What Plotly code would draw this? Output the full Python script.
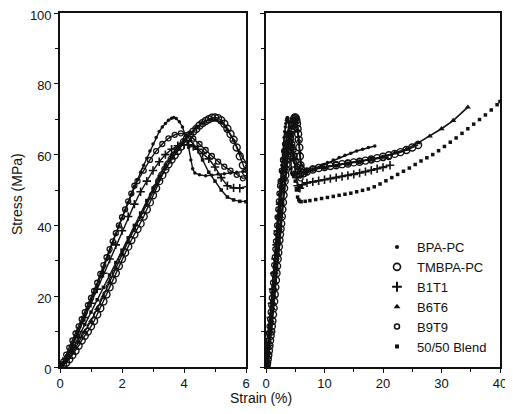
import plotly.graph_objects as go

# ---------------- data ----------------
series_names = ["BPA-PC", "TMBPA-PC", "B1T1", "B6T6", "B9T9", "50/50 Blend"]

bpa_strain = [0, 0.1, 0.2, 0.3, 0.4, 0.5, 0.6, 0.7, 0.8, 0.9, 1.0, 1.1, 1.2, 1.3, 1.4, 1.5, 1.6, 1.7, 1.8, 1.9,
              2.0, 2.1, 2.2, 2.3, 2.4, 2.5, 2.6, 2.7, 2.8, 2.9, 3.0, 3.1, 3.2, 3.3, 3.4, 3.5, 3.6, 3.67, 3.75, 3.85,
              3.95, 4.05, 4.15, 4.22, 4.28, 4.35, 4.5, 4.7, 4.9, 5.1, 5.3, 5.5, 5.7, 5.9, 6.5, 7.5, 8.5, 9.5, 10.5,
              11.5, 12.5, 13.5, 14.5, 15.5, 16.5, 17.5, 18.6]
bpa_stress = [0, 1, 2.5, 4.5, 6.5, 8.5, 10.5, 12.5, 14.5, 16.5, 18.5, 20.8, 23, 25.5, 28, 30.3, 32.5, 35, 37.5, 39.8,
              42, 44.3, 46.5, 48.8, 51, 53, 55, 57, 59, 61, 63, 64.8, 66.5, 67.8, 68.8, 69.7, 70.3, 70.5, 70.2, 69.3,
              67.8, 65.3, 62, 58.5, 56, 54.8, 54.3, 54, 54.2, 54.5, 54.6, 54.8, 55, 55.2, 54.8, 55.5, 56.3, 57, 57.8,
              58.5, 59.2, 59.8, 60.4, 61, 61.5, 62, 62.4]

tmb_strain = [0, 0.1, 0.2, 0.3, 0.4, 0.5, 0.6, 0.7, 0.8, 0.9, 1.0, 1.1, 1.2, 1.3, 1.4, 1.5, 1.6, 1.7, 1.8, 1.9,
              2.0, 2.1, 2.2, 2.3, 2.4, 2.5, 2.6, 2.7, 2.8, 2.9, 3.0, 3.1, 3.2, 3.3, 3.4, 3.5, 3.6, 3.7, 3.8, 3.9,
              4.0, 4.1, 4.2, 4.3, 4.4, 4.5, 4.6, 4.7, 4.8, 4.9, 5.0, 5.1, 5.2, 5.3, 5.4, 5.5, 5.6, 5.7, 5.8, 5.9,
              6.0, 6.5, 7, 8, 9, 10, 11, 12, 13, 14, 15, 16, 17, 18, 19, 20, 21, 22, 23, 24, 25, 26]
tmb_stress = [0, 0.5, 1.2, 2.2, 3.4, 4.6, 6, 7.5, 8.8, 10, 11.5, 13, 14.8, 16.6, 18.5, 20.5, 22.5, 24.5, 26.5, 28.5,
              30.5, 32.3, 34, 35.8, 37.4, 39, 40.5, 42.5, 44.5, 46.5, 48.5, 50.5, 52.5, 54.2, 55.8, 57.3, 58.6, 59.8,
              61, 62.3, 63.6, 64.6, 65.6, 66.5, 67.3, 68.2, 68.9, 69.5, 70, 70.4, 70.5, 70.3, 69.7, 68.7, 67.3, 65.8,
              64.2, 62, 59.5, 57, 55, 54.8, 55.2, 55.8, 56.2, 56.5, 56.8, 57, 57.3, 57.5, 57.8, 58, 58.3, 58.6, 59,
              59.4, 59.8, 60.2, 60.7, 61.3, 62, 62.7]

b1_strain = [0, 0.2, 0.4, 0.6, 0.8, 1.0, 1.2, 1.4, 1.6, 1.8, 2.0, 2.2, 2.4, 2.6, 2.8, 3.0, 3.2, 3.4, 3.6, 3.8,
             4.0, 4.15, 4.3, 4.45, 4.6, 4.8, 5.0, 5.2, 5.4, 5.6, 5.8, 6.2, 7, 8, 9, 10, 11, 12, 13, 14, 15, 16,
             17, 18, 19, 20, 21.2]
b1_stress = [0, 2.5, 6, 10, 14, 18, 22, 26.5, 30.5, 34.5, 38.5, 42.5, 46, 49.5, 52.5, 55.5, 58, 60, 61.5, 62.5,
             62.8, 62.8, 62.3, 61.5, 60.3, 58.8, 56.5, 53.5, 51.2, 50.6, 50.5, 51.5, 52, 52.3, 52.6, 52.9, 53.2,
             53.5, 53.8, 54.1, 54.4, 54.8, 55.2, 55.6, 56, 56.4, 57]

b6_strain = [0, 0.2, 0.4, 0.6, 0.8, 1.0, 1.2, 1.4, 1.6, 1.8, 2.0, 2.2, 2.4, 2.6, 2.8, 3.0, 3.2, 3.4, 3.6, 3.8,
             4.0, 4.2, 4.4, 4.6, 4.8, 5.0, 5.2, 5.4, 5.6, 5.8, 6.05, 7, 8, 10, 12, 14, 16, 18, 20, 22, 24, 26,
             28, 30, 32, 34.5]
b6_stress = [0, 1.5, 4, 7, 10, 13, 16.5, 20, 24, 28, 32, 35.5, 39, 42.5, 46, 49.5, 53, 56, 59, 61.5,
             64, 66, 67.7, 69, 69.8, 70, 69.2, 67, 64, 60.5, 57, 55.5, 55.8, 56.3, 56.8, 57.4, 58, 58.6, 59.3,
             60.5, 61.5, 63.3, 65.2, 67.3, 69.6, 73.4]

b9_strain = [0, 0.1, 0.2, 0.3, 0.4, 0.5, 0.6, 0.7, 0.8, 0.9, 1.0, 1.1, 1.2, 1.3, 1.4, 1.5, 1.6, 1.7, 1.8, 1.9,
             2.0, 2.1, 2.2, 2.3, 2.4, 2.5, 2.7, 2.9, 3.1, 3.3, 3.5, 3.7, 3.9, 4.1, 4.3, 4.5, 4.7, 4.9, 5.1, 5.3,
             5.5, 5.7, 5.9, 6.5, 7, 8, 10, 12, 14, 16, 18, 20, 21]
b9_stress = [0, 1.5, 3.5, 5.5, 7.5, 9.5, 11.5, 13.5, 15.5, 17.5, 19.5, 21.5, 23.8, 26.3, 28.8, 31, 33.3, 35.5,
             37.8, 40, 42.3, 44.5, 46.8, 49, 51.2, 52.5, 55.5, 58.5, 61, 63, 64.6, 65.6, 66, 65.6, 64.5, 63, 61.3,
             59.6, 58, 56.6, 55.5, 54.3, 53.3, 54.5, 55.5, 56, 56.6, 57.2, 57.7, 58.2, 58.6, 59, 59.3]

blend_strain = [0, 0.2, 0.4, 0.6, 0.8, 1.0, 1.2, 1.4, 1.6, 1.8, 2.0, 2.2, 2.4, 2.6, 2.8, 3.0, 3.2, 3.4, 3.6, 3.8,
                4.0, 4.2, 4.4, 4.6, 4.8, 5.0, 5.2, 5.4, 5.6, 5.8, 6.0, 6.7, 7.5, 8.5, 9.5, 10.5, 11.5, 12.5, 13.5,
                14.5, 15.5, 16.5, 17.5, 18.5, 19.5, 20.5, 21.5, 22.5, 23.5, 24.5, 25.5, 26.5, 27.5, 28.5, 29.5,
                30.5, 31.5, 32.5, 33.5, 34.5, 35.5, 36.5, 37.5, 38.5, 39.5, 40]
blend_stress = [0, 2, 5, 8.5, 12, 15.5, 19, 22.5, 26, 29.5, 33, 36.5, 40, 43.5, 47, 50.5, 53.8, 57, 59.8, 62.2,
                63.8, 64, 62, 58.5, 55, 52.5, 50, 48, 47.2, 46.8, 46.7, 46.8, 47, 47.3, 47.6, 47.9, 48.2, 48.5,
                48.8, 49.1, 49.5, 49.9, 50.3, 50.9, 51.7, 52.6, 53.5, 54.4, 55.3, 56.2, 57.2, 58.2, 59.1, 60.0,
                61.1, 62.3, 63.5, 64.7, 66.0, 67.3, 68.6, 69.9, 71.2, 72.6, 74.1, 75]

left_ticks = [0, 2, 4, 6]
right_ticks = [0, 10, 20, 30, 40]
stress_ticks = [0, 20, 40, 60, 80, 100]

data = [
    (bpa_strain, bpa_stress),
    (tmb_strain, tmb_stress),
    (b1_strain, b1_stress),
    (b6_strain, b6_stress),
    (b9_strain, b9_stress),
    (blend_strain, blend_stress),
]
for sx, sy in data:
    assert len(sx) == len(sy), (len(sx), len(sy))

# ---------------- styles ----------------
INK = "#111111"
FONT = "Liberation Sans, Arial, sans-serif"
markers = [
    dict(symbol="circle", size=3.5, color=INK),
    dict(symbol="circle-open", size=7, color=INK, line=dict(width=1.4, color=INK)),
    dict(symbol="cross-thin-open", size=6, color=INK, line=dict(width=1.6, color=INK)),
    dict(symbol="triangle-up", size=5.5, color=INK),
    dict(symbol="circle-open", size=5, color=INK, line=dict(width=1.3, color=INK)),
    dict(symbol="square", size=3.5, color=INK),
]
legend_markers = [
    dict(symbol="circle", size=4, color=INK),
    dict(symbol="circle-open", size=7, color=INK, line=dict(width=1.6, color=INK)),
    dict(symbol="cross-thin-open", size=7, color=INK, line=dict(width=2, color=INK)),
    dict(symbol="triangle-up", size=6, color=INK),
    dict(symbol="circle-open", size=5, color=INK, line=dict(width=1.5, color=INK)),
    dict(symbol="square", size=4, color=INK),
]

fig = go.Figure()
for i, (name, (sx, sy)) in enumerate(zip(series_names, data)):
    # left panel (0-6 % strain)
    fig.add_trace(go.Scatter(x=sx, y=sy, mode="lines+markers", line=dict(color=INK, width=1.4),
                             marker=markers[i], xaxis="x", yaxis="y", showlegend=False, hoverinfo="skip"))
    # right panel (0-40 % strain)
    mode = "markers" if i == 5 else "lines+markers"
    fig.add_trace(go.Scatter(x=sx, y=sy, mode=mode, line=dict(color=INK, width=1.6),
                             marker=markers[i], xaxis="x2", yaxis="y2", showlegend=False, hoverinfo="skip"))
for i, name in enumerate(series_names):
    fig.add_trace(go.Scatter(x=[None], y=[None], mode="markers", name=name, marker=legend_markers[i],
                             xaxis="x2", yaxis="y2", showlegend=True))

# the page body adds an 8px offset, so the figure is sized to fit the window after that offset
OFF = 8
TOP = 13      # screen y of the 100 MPa line
BOTTOM = 367  # screen y of the 0 MPa line
W, H = 513 - OFF, 414 - OFF
L, R, T = 60 - OFF, 13, TOP - OFF
B = H - (BOTTOM - OFF)
pw = W - L - R
ph = H - T - B
split1 = (246 - 60) / pw
split2 = (266 - 60) / pw

def scr_y(py):
    return (BOTTOM - py) / ph

axis_common = dict(showline=True, linecolor=INK, linewidth=1.6, mirror=True, ticks="outside", ticklen=4,
                   tickwidth=1.3, tickcolor=INK, showgrid=False, zeroline=False, automargin=False,
                   tickfont=dict(family=FONT, size=13, color=INK))

fig.update_layout(
    width=W, height=H,
    margin=dict(l=L, r=R, t=T, b=B, autoexpand=False),
    paper_bgcolor="white", plot_bgcolor="white",
    font=dict(family=FONT, size=13, color=INK),
    xaxis=dict(domain=[0, split1], range=[0, 6], tickvals=left_ticks,
               minor=dict(dtick=1, ticks="outside", ticklen=3, tickcolor=INK), anchor="y", **axis_common),
    yaxis=dict(domain=[0, 1], range=[0, 100], tickvals=stress_ticks, ticklabelshift=2,
               ticklabeloverflow="allow",
               minor=dict(dtick=10, ticks="outside", ticklen=3, tickcolor=INK), anchor="x", **axis_common),
    xaxis2=dict(domain=[split2, 1], range=[0, 40], tickvals=right_ticks, ticklabeloverflow="allow",
                minor=dict(dtick=5, ticks="outside", ticklen=3, tickcolor=INK), anchor="y2", **axis_common),
    yaxis2=dict(domain=[0, 1], range=[0, 100], tickvals=stress_ticks, showticklabels=False,
                minor=dict(dtick=10, ticks="outside", ticklen=3, tickcolor=INK), anchor="x2", **axis_common),
    legend=dict(x=(377 - 60) / pw, y=scr_y(232), xanchor="left", yanchor="top",
                bgcolor="rgba(0,0,0,0)", font=dict(family=FONT, size=13, color=INK), tracegroupgap=0,
                itemsizing="trace"),
    annotations=[
        dict(text="Strain (%)", xref="paper", yref="paper", x=(261 - 60) / pw, y=0,
             yshift=-31, showarrow=False, yanchor="middle", font=dict(family=FONT, size=14, color=INK)),
        dict(text="Stress (MPa)", xref="paper", yref="paper", x=0, xshift=17 - 60, y=scr_y(194),
             textangle=-90, showarrow=False, xanchor="center", yanchor="middle",
             font=dict(family=FONT, size=14, color=INK)),
    ],
)

fig.write_html("out.html")
